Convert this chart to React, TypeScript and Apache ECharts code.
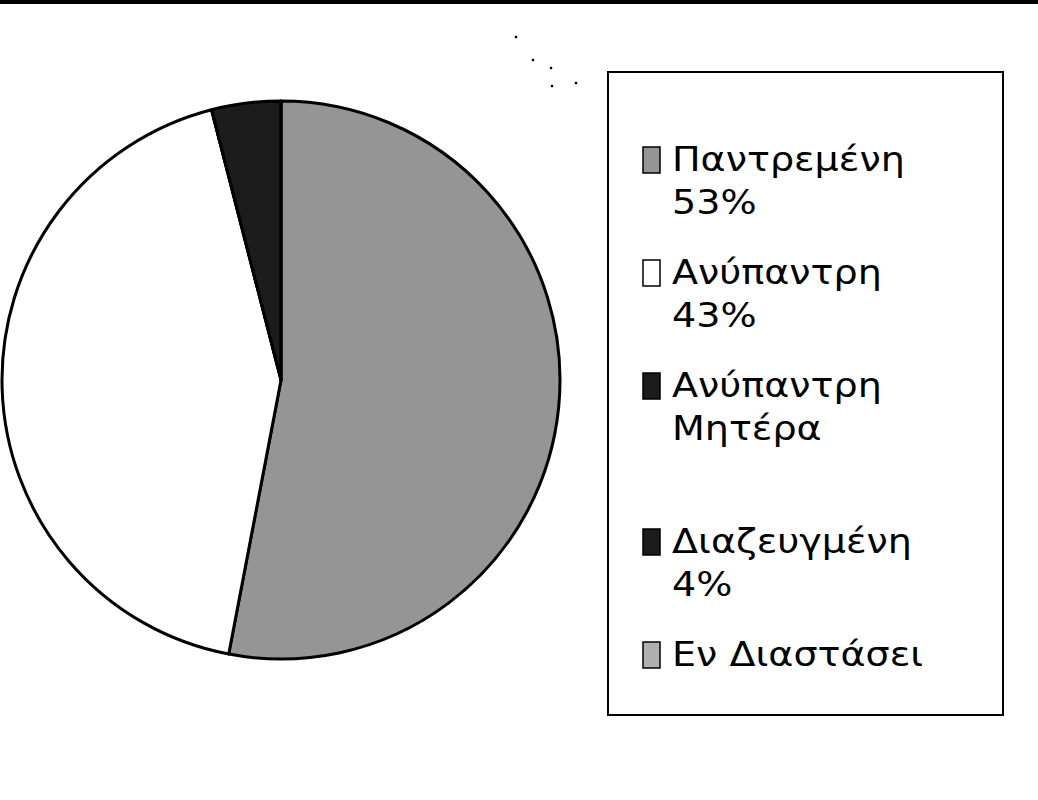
import React, { useEffect, useRef } from "react";
import * as echarts from "echarts";

// ---- data ----
const categories = ["Παντρεμένη", "Ανύπαντρη", "Ανύπαντρη Μητέρα", "Διαζευγμένη", "Εν Διαστάσει"];
const values = [53, 43, 0, 4, 0];
const legendLines: string[][] = [
  ["Παντρεμένη", "53%"],
  ["Ανύπαντρη", "43%"],
  ["Ανύπαντρη", "Μητέρα", ""],
  ["Διαζευγμένη", "4%"],
  ["Εν Διαστάσει"],
];

// ---- styles ----
const sliceColors = ["#959595", "#ffffff", "#1c1c1c", "#1c1c1c", "#b0b0b0"];
const FONT = "'DejaVu Sans', 'Liberation Sans', sans-serif";

export default function App() {
  const ref = useRef<HTMLDivElement>(null);
  useEffect(() => {
    if (!ref.current) return;
    const chart = echarts.init(ref.current, undefined, { renderer: "svg" });

    const graphics: any[] = [];
    // top thick line
    graphics.push({
      type: "rect",
      shape: { x: 0, y: 0, width: 1038, height: 4 },
      style: { fill: "#000" },
      silent: true,
    });
    // scan specks
    [[516, 37], [533, 60], [551, 68], [552, 86], [576, 83]].forEach(([x, y]) =>
      graphics.push({ type: "circle", shape: { cx: x, cy: y, r: 1.3 }, style: { fill: "#000" }, silent: true })
    );
    // legend box
    graphics.push({
      type: "rect",
      shape: { x: 608, y: 72, width: 395, height: 643 },
      style: { fill: "#fff", stroke: "#000", lineWidth: 2 },
      z: 1,
    });
    const lineH = 43;
    const itemGap = 70;
    let y = 160;
    legendLines.forEach((lines, i) => {
      graphics.push({
        type: "rect",
        shape: { x: 643, y: y - 13, width: 17, height: 26 },
        style: { fill: sliceColors[i], stroke: "#000", lineWidth: 1.5 },
        z: 2,
      });
      lines.forEach((t, j) => {
        if (t) {
          graphics.push({
            type: "text",
            x: 672,
            y: y + j * lineH,
            scaleX: 1.12,
            style: { text: t, font: `34px ${FONT}`, fill: "#000", verticalAlign: "middle", align: "left" },
            z: 2,
          });
        }
      });
      y = y + (lines.length - 1) * lineH + itemGap;
    });

    chart.setOption({
      animation: false,
      backgroundColor: "#fff",
      graphic: graphics,
      series: [
        {
          type: "pie",
          center: [281, 380],
          radius: 279,
          startAngle: 90,
          clockwise: true,
          label: { show: false },
          labelLine: { show: false },
          emphasis: { disabled: true },
          itemStyle: { borderColor: "#000", borderWidth: 3 },
          data: categories.map((name, i) => ({
            name,
            value: values[i],
            itemStyle: { color: sliceColors[i] },
          })),
        },
      ],
    });
    return () => chart.dispose();
  }, []);
  return (
    <div
      ref={ref}
      style={{ position: "absolute", left: 0, top: 0, width: 1038, height: 800 }}
    />
  );
}
